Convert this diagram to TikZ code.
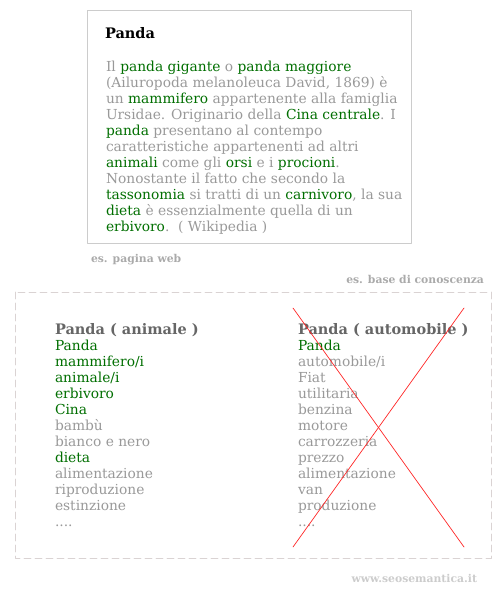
\documentclass[tikz,border=0pt]{standalone}
\usepackage{fontspec}
\setmainfont{DejaVu Serif}
\usetikzlibrary{positioning}

\definecolor{kwgreen}{HTML}{006E00}
\definecolor{txtgray}{HTML}{999999}
\definecolor{headgray}{HTML}{666666}
\definecolor{notegray}{HTML}{AAAAAA}
\definecolor{sitegray}{HTML}{CCCCCC}
\definecolor{boxgray}{HTML}{CCCCCC}
\definecolor{dashgray}{HTML}{DAD3D3}
\newcommand{\kw}[1]{\textcolor{kwgreen}{#1}}
\newcommand{\moredots}{....}

\begin{document}
\begin{tikzpicture}[x=1pt, y=-1pt, line cap=round, line join=round,
  every node/.style={inner sep=0pt, outer sep=0pt, anchor=base west},
  body/.style={font=\fontsize{13.8}{16}\selectfont, text=txtgray},
  head/.style={font=\fontsize{14.5}{16}\selectfont\bfseries, text=headgray},
  note/.style={font=\fontsize{10.8}{13}\selectfont\bfseries, text=notegray}]
  % Page frame (pixels of the reference).
  \useasboundingbox (0,0) rectangle (500,600);

  % Web page box.
  \draw[boxgray, line width=0.8pt] (87,10) rectangle (411,243);
  \node[font=\fontsize{14.5}{16}\selectfont\bfseries] (title) at (105,38) {Panda};
  \node[body] (web1) at (106,71) {Il \kw{panda gigante} o \kw{panda maggiore}};
  \node[body] (web2) at (106,87) {(Ailuropoda melanoleuca David, 1869) è};
  \node[body] (web3) at (106,103) {un \kw{mammifero} appartenente alla famiglia};
  \node[body] (web4) at (106,119) {Ursidae. Originario della \kw{Cina centrale}. I};
  \node[body] (web5) at (106,135) {\kw{panda} presentano al contempo};
  \node[body] (web6) at (106,151) {caratteristiche appartenenti ad altri};
  \node[body] (web7) at (106,167) {\kw{animali} come gli \kw{orsi} e i \kw{procioni}.};
  \node[body] (web8) at (106,183) {Nonostante il fatto che secondo la};
  \node[body] (web9) at (106,199) {\kw{tassonomia} si tratti di un \kw{carnivoro}, la sua};
  \node[body] (web10) at (106,215) {\kw{dieta} è essenzialmente quella di un};
  \node[body] (web11) at (106,231) {\kw{erbivoro}.\ \ ( Wikipedia )};

  % Captions.
  \node[note] (webcap) at (91,262) {es. pagina web};
  \node[note, anchor=base east] (kbcap) at (484,283) {es. base di conoscenza};

  % Knowledge base box.
  \draw[dashgray, line width=0.8pt, dash pattern=on 7pt off 4pt] (15,292) rectangle (491,558);

  % Left column: the animal.
  \node[head] (anihead) at (55,334) {Panda ( animale )};
  \foreach \col/\txt [count=\i] in {kwgreen/Panda, kwgreen/{mammifero/i},
      kwgreen/{animale/i}, kwgreen/erbivoro, kwgreen/Cina, txtgray/bambù,
      txtgray/bianco e nero, kwgreen/dieta, txtgray/alimentazione,
      txtgray/riproduzione, txtgray/estinzione, txtgray/\moredots}
    \node[body, text=\col] (ani\i) at (55,{334+16*\i}) {\txt};

  % Right column: the car.
  \node[head] (autohead) at (298,334) {Panda ( automobile )};
  \foreach \col/\txt [count=\i] in {kwgreen/Panda, txtgray/{automobile/i},
      txtgray/Fiat, txtgray/utilitaria, txtgray/benzina, txtgray/motore,
      txtgray/carrozzeria, txtgray/prezzo, txtgray/alimentazione,
      txtgray/van, txtgray/produzione, txtgray/\moredots}
    \node[body, text=\col] (auto\i) at (298,{334+16*\i}) {\txt};

  % Cross over the wrong meaning.
  \coordinate (xtl) at (293,308);
  \coordinate (xtr) at (464,308);
  \coordinate (xbl) at (293,547);
  \coordinate (xbr) at (464,547);
  \draw[red!85!white, line width=0.7pt] (xtl) -- (xbr);
  \draw[red!85!white, line width=0.7pt] (xtr) -- (xbl);

  \node[note, text=sitegray, anchor=base east] (site) at (477,582) {www.seosemantica.it};
\end{tikzpicture}
\end{document}
